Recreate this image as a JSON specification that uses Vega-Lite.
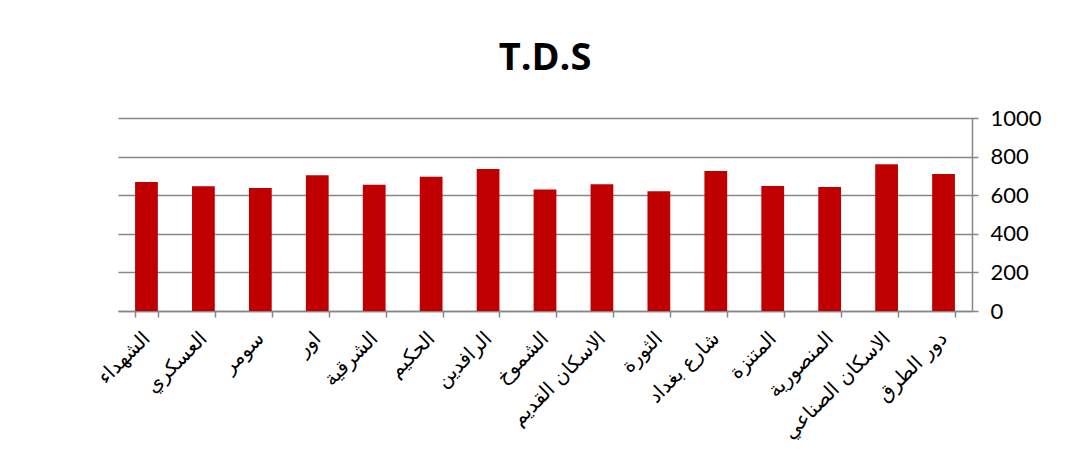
{
  "$schema": "https://vega.github.io/schema/vega-lite/v6.json",
  "autosize": {"type": "none"},
  "padding": {"left": 118, "top": 118, "right": 98, "bottom": 159},
  "width": 854,
  "height": 193,
  "background": "white",
  "title": {
    "text": "T.D.S",
    "font": "Open Sans",
    "fontSize": 38,
    "fontWeight": "bold",
    "color": "#000000",
    "anchor": "middle",
    "offset": 29
  },
  "data": {
    "values": [
      {"site": "الشهداء", "tds": 668},
      {"site": "العسكري", "tds": 646},
      {"site": "سومر", "tds": 637},
      {"site": "اور", "tds": 703},
      {"site": "الشرقية", "tds": 654},
      {"site": "الحكيم", "tds": 696},
      {"site": "الرافدين", "tds": 736},
      {"site": "الشموخ", "tds": 630},
      {"site": "الاسكان القديم", "tds": 657},
      {"site": "الثورة", "tds": 620},
      {"site": "شارع بغداد", "tds": 725},
      {"site": "المتنزة", "tds": 648},
      {"site": "المنصورية", "tds": 643},
      {"site": "الاسكان الصناعي", "tds": 760},
      {"site": "دور  الطرق", "tds": 710}
    ]
  },
  "mark": {"type": "bar", "color": "#C00000"},
  "encoding": {
    "x": {
      "field": "site",
      "type": "nominal",
      "sort": null,
      "scale": {"paddingInner": 0.6, "paddingOuter": 0.3},
      "axis": {
        "title": null,
        "tickBand": "extent",
        "tickSize": 6,
        "tickColor": "#868686",
        "domainColor": "#868686",
        "domainWidth": 1.5,
        "tickWidth": 1.5,
        "labelAngle": -45,
        "labelAlign": "right",
        "labelBaseline": "middle",
        "labelPadding": 18,
        "labelFont": "DejaVu Sans",
        "labelFontSize": 20,
        "labelColor": "#000000",
        "labelLimit": 300,
        "grid": false
      }
    },
    "y": {
      "field": "tds",
      "type": "quantitative",
      "scale": {"domain": [0, 1000], "nice": false},
      "axis": {
        "orient": "right",
        "title": null,
        "format": "d",
        "values": [0, 200, 400, 600, 800, 1000],
        "grid": true,
        "gridColor": "#868686",
        "gridWidth": 1.5,
        "domainColor": "#868686",
        "domainWidth": 1.5,
        "tickColor": "#868686",
        "tickWidth": 1.5,
        "tickSize": 6,
        "labelFont": "Lato",
        "labelFontSize": 22,
        "labelColor": "#000000",
        "labelPadding": 12
      }
    }
  },
  "config": {"view": {"stroke": null}}
}
